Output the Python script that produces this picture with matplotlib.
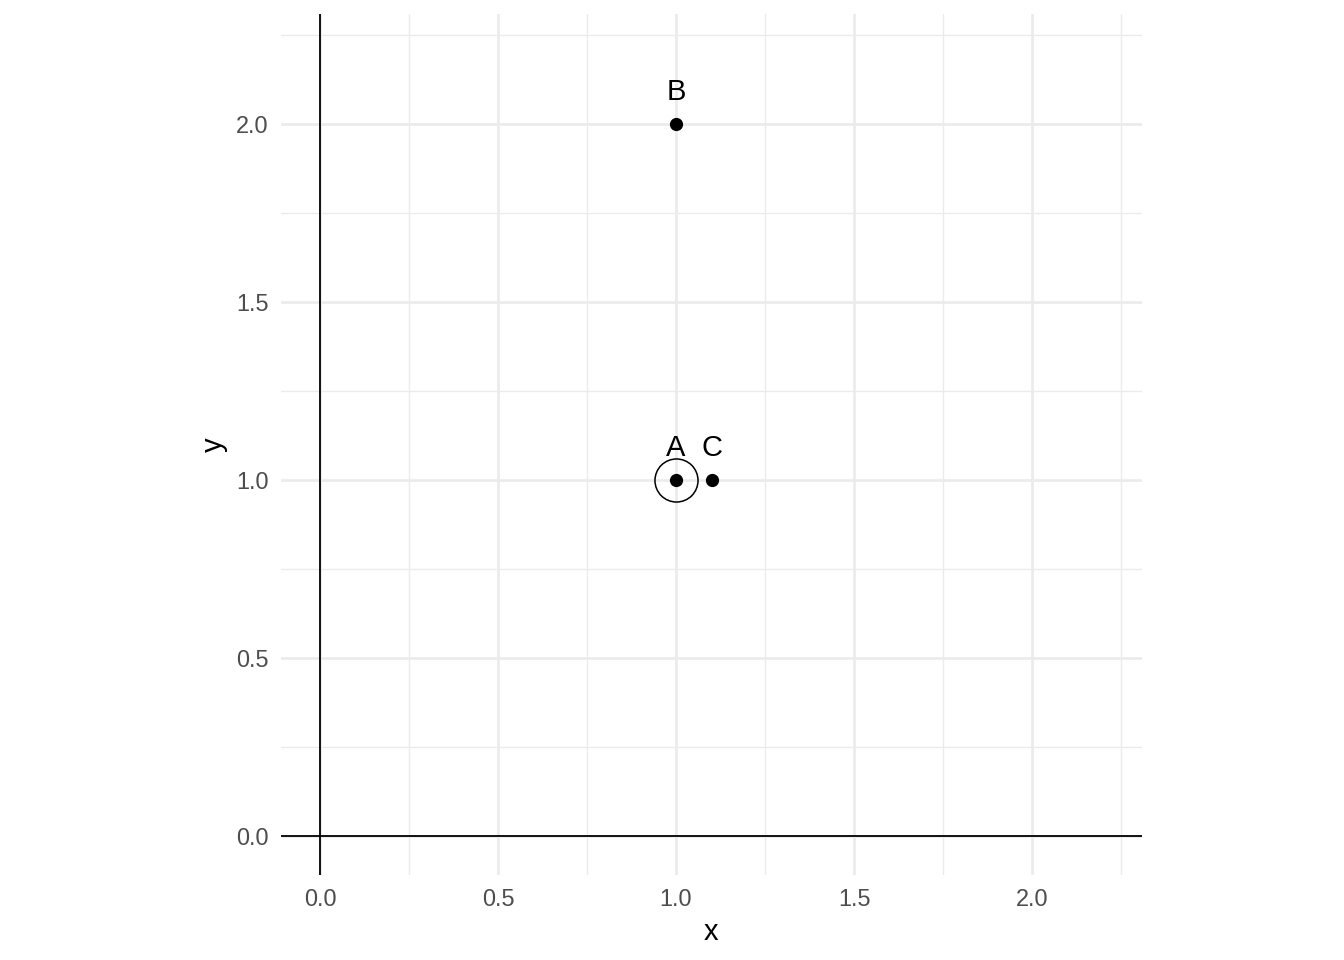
import matplotlib
matplotlib.use("Agg")
import matplotlib.pyplot as plt
import numpy as np

labels = ["A", "B", "C"]
xs = [1.0, 1.0, 1.1]
ys = [1.0, 2.0, 1.0]
highlight_x = [1.0]
highlight_y = [1.0]
x_major = [0.0, 0.5, 1.0, 1.5, 2.0]
y_major = [0.0, 0.5, 1.0, 1.5, 2.0]
x_minor = [0.25, 0.75, 1.25, 1.75, 2.25]
y_minor = [0.25, 0.75, 1.25, 1.75, 2.25]
tick_labels = ["0.0", "0.5", "1.0", "1.5", "2.0"]

plt.rcParams['font.family'] = ['Liberation Sans', 'DejaVu Sans']

fig = plt.figure(figsize=(13.44, 9.6), dpi=100)
ax = fig.add_axes([0.2089, 0.08833, 0.6411, 0.8974])
ax.set_xlim(-0.11, 2.31)
ax.set_ylim(-0.11, 2.31)

for s in ax.spines.values():
    s.set_visible(False)

ax.set_xticks(x_major)
ax.set_xticklabels(tick_labels)
ax.set_yticks(y_major)
ax.set_yticklabels(tick_labels)
ax.set_xticks(x_minor, minor=True)
ax.set_yticks(y_minor, minor=True)
ax.tick_params(which='both', length=0)
ax.tick_params(axis='x', which='major', labelsize=16.9, labelcolor='#4D4D4D', pad=9.4)
ax.tick_params(axis='y', which='major', labelsize=16.9, labelcolor='#4D4D4D', pad=9)
ax.grid(which='major', color='#EBEBEB', linewidth=1.9)
ax.grid(which='minor', color='#EBEBEB', linewidth=0.95)
ax.set_axisbelow(True)

ax.axvline(0, color='black', linewidth=1.3, zorder=2)
ax.axhline(0, color='black', linewidth=1.3, zorder=2)

ax.plot(xs, ys, 'o', color='black', markersize=8.5, linestyle='none', zorder=3)
ax.plot(highlight_x, highlight_y, 'o', markerfacecolor='none', markeredgecolor='black',
        markersize=31, markeredgewidth=1.1, linestyle='none', zorder=3)
for lab, x, y in zip(labels, xs, ys):
    ax.annotate(lab, (x, y), xytext=(0, 17), textcoords='offset points',
                ha='center', va='baseline', fontsize=21, color='black')

fig.text(711 / 1344, 1 - 940 / 960, 'x', ha='center', va='baseline', fontsize=21)
fig.text(222 / 1344, 1 - 445 / 960, 'y', ha='center', va='baseline', fontsize=21,
         rotation=90, rotation_mode='anchor')

fig.savefig('out.png', dpi=100)
